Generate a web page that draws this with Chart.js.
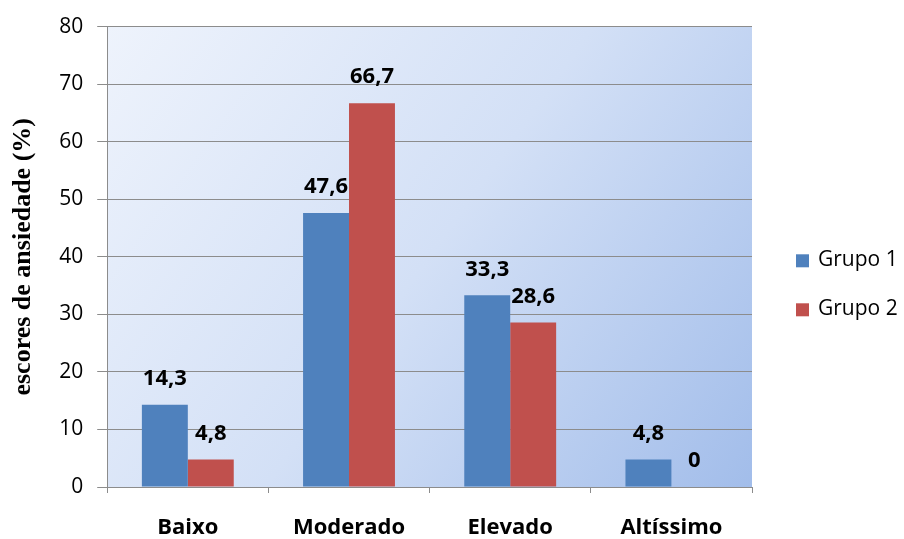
<!DOCTYPE html>
<html>
<head>
<meta charset="utf-8">
<script src="https://cdn.jsdelivr.net/npm/chart.js@4.4.1/dist/chart.umd.min.js"></script>
<style>
  html, body { margin: 0; padding: 0; background: #ffffff; }
  #wrap { width: 904px; height: 539px; }
</style>
</head>
<body>
<div id="wrap"><canvas id="chart" width="904" height="539"></canvas></div>
<script>
// chart data
const categories = ['Baixo', 'Moderado', 'Elevado', 'Altíssimo'];
const grupo1 = [14.3, 47.6, 33.3, 4.8];
const grupo2 = [4.8, 66.7, 28.6, 0];
const seriesNames = ['Grupo 1', 'Grupo 2'];
const yTicks = [0, 10, 20, 30, 40, 50, 60, 70, 80];

const sansFont = "'Open Sans', 'Liberation Sans', sans-serif";

// gradient fill behind the plot area
const plotBackground = {
    id: 'plotBackground',
    beforeDraw(chart) {
        const { ctx, chartArea: a } = chart;
        const g = ctx.createLinearGradient(a.left, a.top, a.right, a.bottom);
        g.addColorStop(0, '#eef3fc');
        g.addColorStop(0.5, '#d3e0f6');
        g.addColorStop(1, '#a2bdea');
        ctx.save();
        ctx.fillStyle = g;
        ctx.fillRect(a.left, a.top, a.right - a.left, a.bottom - a.top);
        ctx.restore();
    }
};

// value labels above the bars
const valueLabels = {
    id: 'valueLabels',
    afterDatasetsDraw(chart) {
        const ctx = chart.ctx;
        ctx.save();
        ctx.font = "bold 22px " + sansFont;
        ctx.fillStyle = '#000000';
        ctx.textAlign = 'center';
        ctx.textBaseline = 'middle';
        chart.data.datasets.forEach((ds, i) => {
            chart.getDatasetMeta(i).data.forEach((bar, j) => {
                const txt = String(ds.data[j]).replace('.', ',');
                ctx.fillText(txt, bar.x, bar.y - 26);
            });
        });
        ctx.restore();
    }
};

// legend to the right of the plot, like the original
const sideLegend = {
    id: 'sideLegend',
    afterDraw(chart) {
        const { ctx, chartArea: a } = chart;
        const x = a.right + 44;
        const mid = (a.top + chart.height) / 2 + 2;
        ctx.save();
        ctx.font = "21px " + sansFont;
        ctx.textBaseline = 'middle';
        chart.data.datasets.forEach((ds, i) => {
            const y = mid + (i - 0.5) * 49;
            ctx.fillStyle = ds.backgroundColor;
            ctx.fillRect(x, y - 6, 13, 13);
            ctx.fillStyle = '#000000';
            ctx.fillText(ds.label, x + 22, y);
        });
        ctx.restore();
    }
};

new Chart(document.getElementById('chart').getContext('2d'), {
    type: 'bar',
    data: {
        labels: categories,
        datasets: [{
            label: seriesNames[0],
            data: grupo1,
            backgroundColor: '#4f81bd',
            barPercentage: 1.0,
            categoryPercentage: 0.57
        }, {
            label: seriesNames[1],
            data: grupo2,
            backgroundColor: '#c0504d',
            barPercentage: 1.0,
            categoryPercentage: 0.57
        }]
    },
    options: {
        responsive: false,
        animation: false,
        layout: { padding: { top: 16, right: 152, left: 8, bottom: 0 } },
        plugins: {
            legend: { display: false },
            tooltip: { enabled: false }
        },
        scales: {
            x: {
                afterFit(axis) {
                    axis.height = 52;
                },
                grid: {
                    offset: true,
                    drawOnChartArea: false,
                    tickLength: 6,
                    color: '#8c8c8c'
                },
                border: { color: '#8c8c8c' },
                ticks: {
                    padding: 22,
                    maxRotation: 0,
                    minRotation: 0,
                    color: '#000000',
                    font: { size: 22, weight: 'bold', family: sansFont }
                }
            },
            y: {
                min: 0,
                max: 80,
                afterBuildTicks(axis) {
                    axis.ticks = yTicks.map(v => ({ value: v }));
                },
                grid: {
                    color: '#8c8c8c',
                    tickLength: 10
                },
                border: { color: '#8c8c8c' },
                ticks: {
                    padding: 14,
                    color: '#000000',
                    font: { size: 21, family: sansFont }
                },
                title: {
                    display: true,
                    text: 'escores de ansiedade (%)',
                    color: '#000000',
                    padding: { top: 0, bottom: 6 },
                    font: { size: 26, weight: 'bold', family: "'Liberation Serif', 'DejaVu Serif', serif" }
                }
            }
        }
    },
    plugins: [plotBackground, valueLabels, sideLegend]
});
</script>
</body>
</html>
